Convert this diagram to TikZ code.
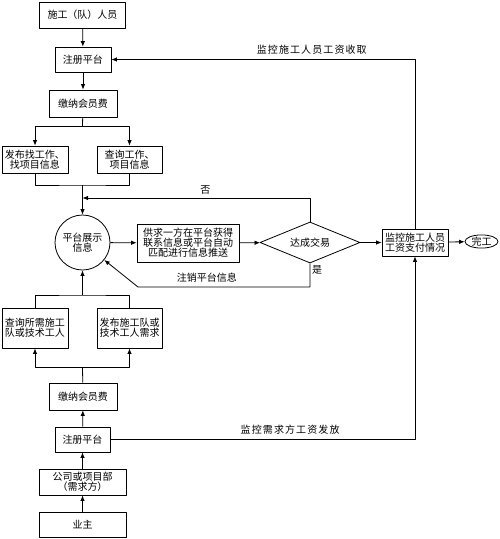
\documentclass[tikz,border=0pt]{standalone}
\usepackage{fontspec}
\newfontfamily\cjk{Noto Sans CJK SC}
\newfontfamily\cjkwide[LetterSpace=11]{Noto Sans CJK SC}
\usetikzlibrary{arrows.meta,shapes.geometric}
\begin{document}
\begin{tikzpicture}[x=1pt,y=-1pt,>={Latex[length=5.5pt,width=4.5pt]},line width=0.8pt,line join=round,
	font=\cjk\fontsize{10}{10}\selectfont,
	box/.style={draw,align=center,inner sep=1pt},
	lbl/.style={font=\cjkwide\fontsize{10}{10}\selectfont}]
	\useasboundingbox (0,0) rectangle (500,539);
	% upper branch
	\node[box,minimum width=86,minimum height=26] (worker) at (82.5,15) {施工（队）人员};
	\node[box,minimum width=56,minimum height=25] (reg1) at (83,59.5) {注册平台};
	\node[box,minimum width=68,minimum height=27] (fee1) at (83,103.5) {缴纳会员费};
	\node[box,minimum width=66,minimum height=27] (pub1) at (35,159.5) {发布找工作、\\找项目信息};
	\node[box,minimum width=65,minimum height=27] (qry1) at (129.5,159.5) {查询工作、\\项目信息};
	% middle row
	\node[draw,circle,minimum size=55,inner sep=0pt,align=center] (show) at (82.5,242.5) {平台展示\\信息};
	\node[box,minimum width=102,minimum height=38] (match) at (188,243) {供求一方在平台获得\\联系信息或平台自动\\匹配进行信息推送};
	\node[draw,diamond,aspect=2.44,minimum width=100,minimum height=41,inner sep=0pt] (deal) at (310,242.5) {达成交易};
	\node[box,minimum width=66,minimum height=27] (wage) at (415,242.5) {监控施工人员\\工资支付情况};
	\node[draw,ellipse,minimum width=33,minimum height=13,inner sep=0pt] (done) at (481.5,241.5) {完工};
	% lower branch
	\node[box,minimum width=66,minimum height=40] (qry2) at (35,328) {查询所需施工\\队或技术工人};
	\node[box,minimum width=65,minimum height=40] (pub2) at (129.5,328) {发布施工队或\\技术工人需求};
	\node[box,minimum width=68,minimum height=27] (fee2) at (83,396.5) {缴纳会员费};
	\node[box,minimum width=55,minimum height=25] (reg2) at (82.5,439.5) {注册平台};
	\node[box,minimum width=87,minimum height=26] (client) at (82.5,482) {公司或项目部\\（需求方）};
	\node[box,minimum width=87,minimum height=25] (owner) at (82.5,524.5) {业主};
	\coordinate (s1) at (82.5,126);
	\coordinate (m1) at (82.5,185);
	\coordinate (n1) at (82.5,198);
	\coordinate (c1) at (138,287);
	\coordinate (m3) at (82.5,295);
	\coordinate (m2) at (82.5,367);
	\draw[->] (worker)--(reg1);
	\draw[->] (reg1)--(fee1);
	\draw (fee1)--(s1);
	\draw[->] (s1)-|(pub1);
	\draw[->] (s1)-|(qry1);
	\draw (pub1)|-(m1)-|(qry1);
	\draw[->] (m1)--(show);
	\draw[->] (deal)|-(n1) node[pos=0.73,above=0pt,lbl]{否};
	\draw[->] (show)--(match);
	\draw[->] (match)--(deal);
	\draw[->] (deal)--(wage);
	\draw[->] (wage)--(done);
	\draw[->] (deal)|-(c1) node[pos=0.8,above=1pt]{注销平台信息}--(show);
	\node[lbl] at (317,270) {是};
	\draw[->] (wage)|-(reg1) node[pos=0.67,above=1pt,lbl]{监控施工人员工资收取};
	\draw[->] (reg2)-|(wage) node[pos=0.295,above=1pt,lbl]{监控需求方工资发放};
	\draw[->] (owner)--(client);
	\draw[->] (client)--(reg2);
	\draw[->] (reg2)--(fee2);
	\draw (fee2)--(m2);
	\draw[->] (m2)-|(qry2);
	\draw[->] (m2)-|(pub2);
	\draw (qry2)|-(m3)-|(pub2);
	\draw[->] (m3)--(show);
\end{tikzpicture}
\end{document}
